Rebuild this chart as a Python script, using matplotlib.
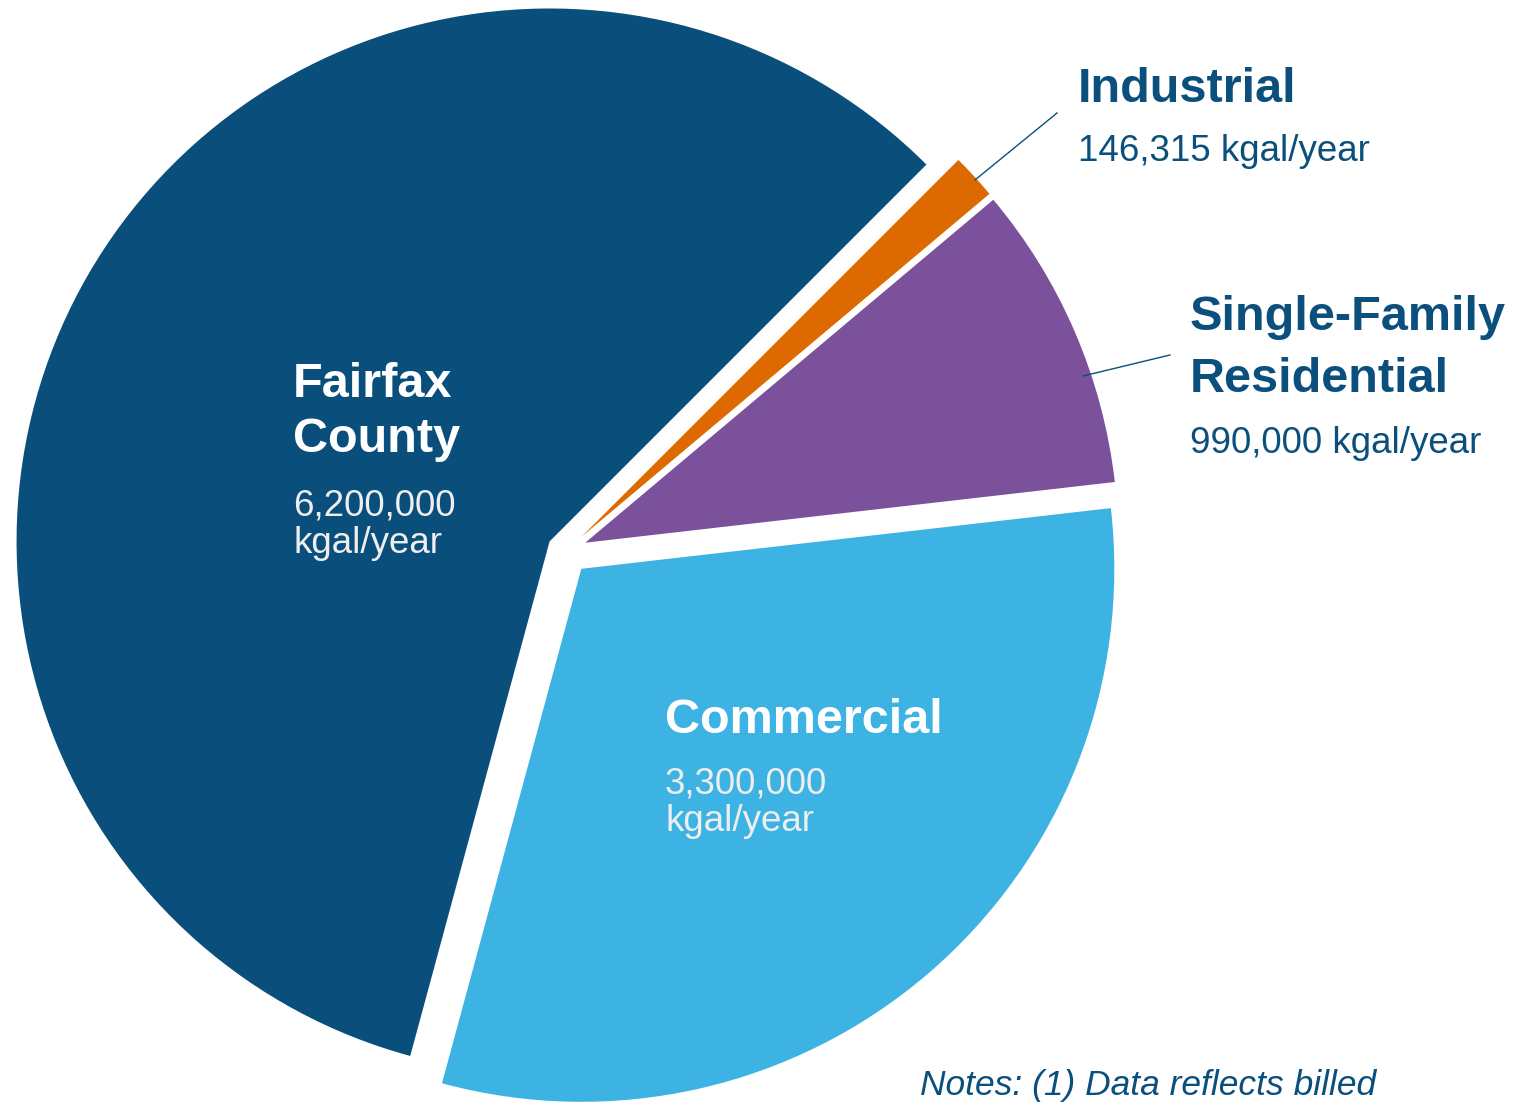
import numpy as np
import matplotlib
matplotlib.use("Agg")
from matplotlib import pyplot as plt

# %% data
categories = ["Fairfax County", "Commercial", "Single-Family Residential", "Industrial"]
values = [6200000, 3300000, 990000, 146315]
value_labels = ["6,200,000", "3,300,000", "990,000", "146,315"]
colors = ["#0A4F7B", "#3CB3E3", "#7A519A", "#DC6A00"]

W, H = 1532, 1102
navy = "#0B4F7C"
# pie explode is in data units (pixels here)
explode = [19, 23.5, 21, 21]
plt.rcParams["font.family"] = ["Liberation Sans", "DejaVu Sans"]

fig = plt.figure(figsize=(W / 100, H / 100), dpi=100)
ax = fig.add_axes([0, 0, 1, 1])

ax.pie(values, colors=colors, startangle=45, counterclock=True,
       radius=533, center=(566, H - 551), explode=explode,
       wedgeprops=dict(linewidth=0))

ax.set_xlim(0, W)
ax.set_ylim(0, H)
ax.set_aspect("equal")
ax.axis("off")


def y(v):
    # pixel row from top -> data y
    return H - v


head = dict(fontsize=35, fontweight="bold", va="baseline", ha="left")
sub = dict(fontsize=26.5, va="baseline", ha="left")

# Fairfax County
ax.text(293, y(397), "Fairfax", color="white", **head)
ax.text(293, y(452), "County", color="white", **head)
ax.text(293, y(516), value_labels[0], color="#EEEEEE", **sub)
ax.text(293, y(553), "kgal/year", color="#EEEEEE", **sub)

# Commercial
ax.text(665, y(733), "Commercial", color="white", **head)
ax.text(665, y(793), value_labels[1], color="#EEEEEE", **sub)
ax.text(665, y(831), "kgal/year", color="#EEEEEE", **sub)

# Industrial
ax.text(1078, y(102), "Industrial", color=navy, **head)
ax.text(1078, y(161), value_labels[3] + " kgal/year", color=navy, **sub)
ax.plot([975, 1057], [y(180), y(113)], color=navy, lw=1)

# Single-Family Residential
ax.text(1190, y(330), "Single-Family", color=navy, **head)
ax.text(1190, y(392), "Residential", color=navy, **head)
ax.text(1190, y(453), value_labels[2] + " kgal/year", color=navy, **sub)
ax.plot([1083, 1170], [y(376), y(355)], color=navy, lw=1)

# note
ax.text(920, y(1095), "Notes: (1) Data reflects billed", color=navy,
        fontsize=25.5, fontstyle="italic", va="baseline", ha="left")

fig.savefig("out.png", dpi=100)
